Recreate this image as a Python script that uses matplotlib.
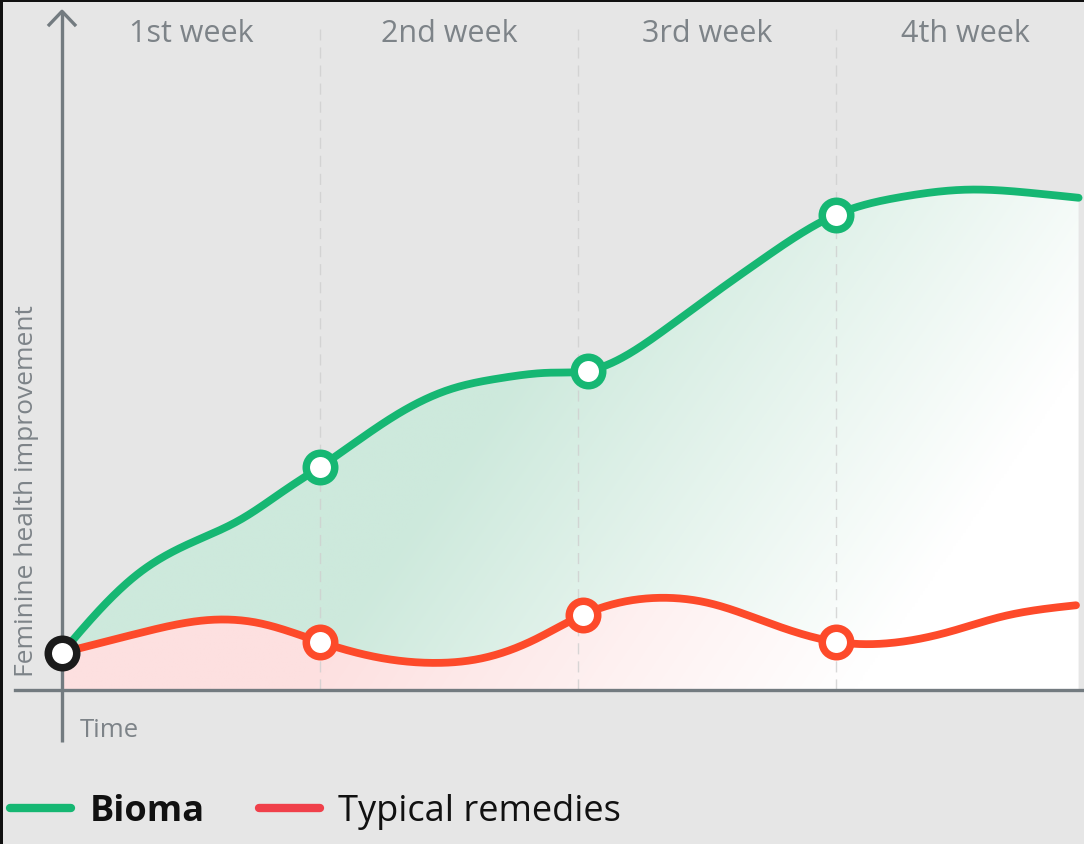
import matplotlib
matplotlib.use("Agg")
import matplotlib.pyplot as plt
import matplotlib.patches as patches
from matplotlib.lines import Line2D
from matplotlib.colors import to_rgb
import numpy as np

plt.rcParams["font.family"] = ["Open Sans", "DejaVu Sans"]

week_labels = ["1st week", "2nd week", "3rd week", "4th week"]

# curve shape (time in weeks, improvement in arbitrary units)
bioma_t = [0, 0.17, 0.30, 0.50, 0.69, 0.88, 1.0, 1.31, 1.50, 1.70, 1.89, 2.04, 2.32, 2.51, 2.71, 3.0, 3.25, 3.51, 3.76, 3.94]
bioma_v = [5.5, 12.8, 17.3, 21.7, 25.1, 29.9, 32.9, 40.9, 44.3, 46.0, 46.8, 47.1, 52.7, 58.0, 63.4, 70.1, 72.7, 73.8, 73.3, 72.6]
bioma_mark_t = [1.0, 2.04, 3.0]
bioma_mark_v = [32.9, 47.1, 70.1]

remedy_t = [0, 0.30, 0.56, 0.76, 1.0, 1.24, 1.44, 1.63, 1.83, 2.02, 2.32, 2.51, 2.71, 3.0, 3.25, 3.44, 3.64, 3.93]
remedy_v = [5.5, 8.4, 10.3, 9.9, 7.1, 4.7, 4.0, 4.7, 7.4, 11.1, 13.6, 12.8, 10.3, 7.1, 7.1, 8.6, 10.8, 12.5]
remedy_mark_t = [1.0, 2.02, 3.0]
remedy_mark_v = [7.1, 11.1, 7.1]

start_t, start_v = 0, 5.5

bg = "#e6e6e6"
green = "#16b773"
red = "#fd4a2a"
axis_col = "#737b80"
text_col = "#7d8388"


def smooth(xs, ys, n=600):
    # natural cubic spline through the read points
    xs = np.asarray(xs, float)
    ys = np.asarray(ys, float)
    k = len(xs)
    h = np.diff(xs)
    A = np.zeros((k, k))
    b = np.zeros(k)
    A[0, 0] = 1
    A[-1, -1] = 1
    for i in range(1, k - 1):
        A[i, i - 1] = h[i - 1]
        A[i, i] = 2 * (h[i - 1] + h[i])
        A[i, i + 1] = h[i]
        b[i] = 6 * ((ys[i + 1] - ys[i]) / h[i] - (ys[i] - ys[i - 1]) / h[i - 1])
    M = np.linalg.solve(A, b)
    xq = np.linspace(xs[0], xs[-1], n)
    idx = np.clip(np.searchsorted(xs, xq) - 1, 0, k - 2)
    x0, x1 = xs[idx], xs[idx + 1]
    hh = x1 - x0
    a = (x1 - xq) / hh
    c = (xq - x0) / hh
    yq = a * ys[idx] + c * ys[idx + 1] + ((a ** 3 - a) * M[idx] + (c ** 3 - c) * M[idx + 1]) * hh ** 2 / 6
    return xq, yq


fig = plt.figure(figsize=(10.84, 8.44), dpi=100)
fig.patch.set_facecolor(bg)
ax = fig.add_axes([0, 0, 1, 1])
ax.set_facecolor(bg)
ax.axis("off")

gx, gy = smooth(bioma_t, bioma_v)
rx, ry = smooth(remedy_t, remedy_v)

# gradient fills clipped to the areas under the curves, fading to white towards bottom right
def gradient_fill(xs, ys, base, z):
    x_end = xs[-1]
    top = 76
    nx, ny = 400, 300
    xn, yn = np.meshgrid(np.linspace(0, 1, nx), np.linspace(0, 1, ny))
    d = xn + 0.35 * (1 - yn)
    t = np.clip((d - 0.58) / 0.55, 0, 1)
    base = np.array(to_rgb(base))
    img = base[None, None, :] * (1 - t[..., None]) + np.ones(3)[None, None, :] * t[..., None]
    im = ax.imshow(img, extent=[0, x_end, 0, top], origin="lower", aspect="auto",
                   interpolation="bilinear", zorder=z)
    verts = np.column_stack([np.r_[xs, x_end, 0], np.r_[ys, 0, 0]])
    poly = patches.Polygon(verts, closed=True, facecolor="none", edgecolor="none")
    ax.add_patch(poly)
    im.set_clip_path(poly)

gradient_fill(gx, gy, "#cde9dc", 1)
gradient_fill(rx, ry, "#fde0e0", 2)

# week dividers
for w in [1, 2, 3]:
    ax.plot([w, w], [0, 97.5], color="#cfcfcf", lw=1, ls=(0, (8, 5)), alpha=0.8, zorder=3)

# axes with arrow
ax.plot([0, 0], [-7.7, 100.1], color=axis_col, lw=2.4, zorder=4, solid_capstyle="butt")
ax.plot([-0.05, 0, 0.05], [98.1, 100.1, 98.1], color=axis_col, lw=2.4, zorder=4)
ax.plot([-0.182, 3.961], [0, 0], color=axis_col, lw=2.4, zorder=4)

# curves
ax.plot(gx, gy, color=green, lw=5.6, solid_capstyle="round", zorder=5)
ax.plot(rx, ry, color=red, lw=5.6, solid_capstyle="round", zorder=5)

ms, mew = 20.5, 5.4
ax.plot(bioma_mark_t, bioma_mark_v, ls="none", marker="o", ms=ms, mew=mew,
        mfc="white", mec=green, zorder=6)
ax.plot(remedy_mark_t, remedy_mark_v, ls="none", marker="o", ms=ms, mew=mew,
        mfc="white", mec=red, zorder=6)
ax.plot([start_t], [start_v], ls="none", marker="o", ms=ms, mew=mew,
        mfc="white", mec="#1b1b1b", zorder=7)

# texts
for i, lab in enumerate(week_labels):
    ax.text(i + 0.5, 95.6, lab, ha="center", va="baseline", fontsize=22, color=text_col)
ax.text(0.07, -6.9, "Time", ha="left", va="baseline", fontsize=18.5, color=text_col)
ax.text(-0.136, 29.4, "Feminine health improvement", ha="center", va="center",
        rotation=90, fontsize=19, color=text_col)

ax.set_xlim(-0.2403, 3.961)
ax.set_ylim(-22.71, 101.77)

handles = [Line2D([], [], color=green, lw=6, solid_capstyle="round"),
           Line2D([], [], color="#f0404a", lw=6, solid_capstyle="round")]
leg = fig.legend(handles, ["Bioma", "Typical remedies"], loc="center left",
                 bbox_to_anchor=(10 / 1084, 1 - 812 / 844), ncol=2, frameon=False,
                 fontsize=26, handlelength=1.7, handletextpad=0.5, columnspacing=1.5,
                 borderpad=0, borderaxespad=0)
for t in leg.get_texts():
    t.set_color("#111111")
leg.get_texts()[0].set_fontweight("bold")

# thin dark frame at the left and top edges of the screenshot
fig.add_artist(patches.Rectangle((0, 0), 3 / 1084, 1, transform=fig.transFigure,
                                 color="#111111", lw=0, zorder=10))
fig.add_artist(patches.Rectangle((0, 1 - 1.5 / 844), 1, 1.5 / 844, transform=fig.transFigure,
                                 color="#111111", lw=0, zorder=10))

fig.savefig("out.png", dpi=100, facecolor=bg)
